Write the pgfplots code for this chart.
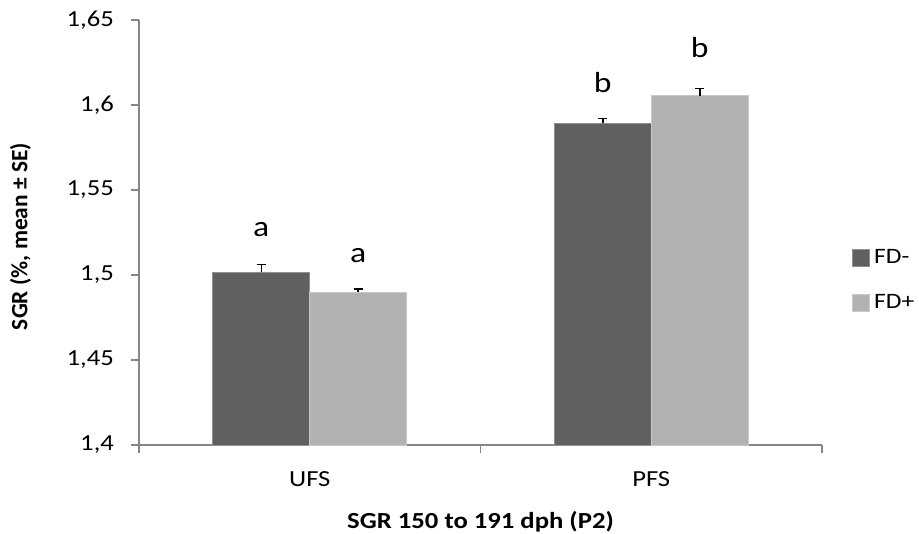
\documentclass[border=0pt]{standalone}
\usepackage{pgfplots}
\pgfplotsset{compat=1.18}
\usepackage{fontspec}
\setmainfont{Carlito}[FakeStretch=1.16]
\newfontfamily\ylabfont{Carlito}
\definecolor{darkbar}{HTML}{606060}
\definecolor{lightbar}{HTML}{B2B2B2}
\definecolor{axisgray}{HTML}{868686}
\begin{document}
\begin{tikzpicture}[x=1pt,y=1pt]
\path[use as bounding box] (-69.5pt,-44.5pt) rectangle (390pt,222.5pt);
\begin{axis}[
  scale only axis,
  width=341.5pt, height=212.5pt,
  at={(0,0)}, anchor=south west,
  ybar=0pt, bar width=0.284,
  xmin=-0.5, xmax=1.5,
  ymin=1.4, ymax=1.65,
  ytick={1.4,1.45,1.5,1.55,1.6,1.65},
  xtick={0,1}, xticklabels={UFS,PFS},
  minor xtick={-0.5,0.5,1.5},
  major x tick style={draw=none},
  tick align=outside,
  major tick length=4pt, minor tick length=4pt,
  every tick/.style={axisgray, line width=0.8pt},
  axis lines*=left,
  axis line style={axisgray, line width=0.8pt},
  font=\fontsize{11.5}{13}\selectfont,
  /pgf/number format/assume math mode=true,
  /pgf/number format/use comma,
  /pgf/number format/fixed,
  /pgf/number format/precision=2,
  yticklabel style={xshift=-5pt},
  xticklabel style={yshift=-6pt},
  xlabel={\textbf{SGR 150 to 191 dph (P2)}},
  ylabel={\ylabfont\fontsize{11.7}{14}\selectfont\textbf{SGR (\%, mean ± SE)}},
  xlabel style={yshift=-5.5pt},
  ylabel style={yshift=11pt, xshift=-2pt},
  legend style={at={(1,0.387)}, anchor=west, xshift=15pt, draw=none, fill=none,
    row sep=10pt, font=\fontsize{11}{13}\selectfont, inner sep=0pt,
    /tikz/every even column/.append style={column sep=3pt}},
  legend image code/.code={\fill[#1] (0pt,-4.3pt) rectangle (8.5pt,4.3pt);},
  legend cell align=left,
  error bars/y dir=plus, error bars/y explicit,
  error bars/error bar style={black, line width=0.75pt},
  error bars/error mark options={rotate=90, mark size=2.3pt, black, line width=0.75pt},
]
\addplot[fill=darkbar, draw=darkbar!70!white, line width=0.4pt]
  coordinates {(0,1.5016) +- (0,0.0045) (1,1.5892) +- (0,0.0030)};
\addplot[fill=lightbar, draw=lightbar!70!white, line width=0.4pt]
  coordinates {(0,1.4898) +- (0,0.0021) (1,1.6055) +- (0,0.0043)};
\legend{FD-,FD+}
\node[anchor=base, font=\fontsize{14.5}{16}\selectfont] at (axis cs:-0.142,1.5224) {a};
\node[anchor=base, font=\fontsize{14.5}{16}\selectfont] at (axis cs:0.142,1.5071) {a};
\node[anchor=base, font=\fontsize{14.5}{16}\selectfont] at (axis cs:0.858,1.6071) {b};
\node[anchor=base, font=\fontsize{14.5}{16}\selectfont] at (axis cs:1.142,1.6282) {b};
\end{axis}
\end{tikzpicture}
\end{document}
